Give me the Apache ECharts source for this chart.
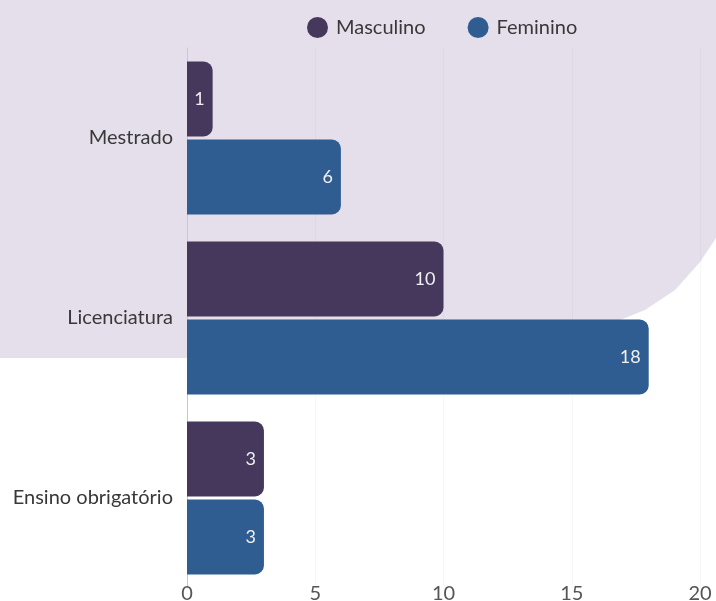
<!DOCTYPE html>
<html>
<head>
<meta charset="utf-8">
<script src="https://cdn.jsdelivr.net/npm/echarts@6/dist/echarts.min.js"></script>
<style>
  html, body { margin: 0; padding: 0; background: #ffffff; }
  #chart { width: 716px; height: 601px; }
</style>
</head>
<body>
<div id="chart"></div>
<script>
// Education level by gender
const categories = ['Mestrado', 'Licenciatura', 'Ensino obrigatório'];
const seriesNames = ['Masculino', 'Feminino'];
const masculino = [1, 10, 3];
const feminino = [6, 18, 3];
const xTicks = [0, 5, 10, 15, 20];

const colors = ['#46385c', '#2f5d91'];
const font = 'Lato, "Open Sans", sans-serif';

const chart = echarts.init(document.getElementById('chart'), null, { renderer: 'canvas' });

const valueLabel = {
  show: true,
  position: 'insideRight',
  distance: 8,
  color: '#f0f0f0',
  fontSize: 18,
  fontFamily: font
};

chart.setOption({
  backgroundColor: '#ffffff',
  graphic: [{
    type: 'polygon',
    z: -10,
    silent: true,
    shape: {
      points: [[0, 0], [716, 0], [716, 238], [700, 262], [675, 290], [645, 310],
               [600, 328], [540, 342], [460, 351], [350, 356], [200, 358], [0, 358]]
    },
    style: { fill: '#e5dfeb' }
  }],
  color: colors,
  legend: {
    data: seriesNames,
    top: 12,
    left: 302,
    icon: 'circle',
    itemWidth: 21,
    itemHeight: 21,
    itemGap: 42,
    textStyle: { fontSize: 20, color: '#383838', fontFamily: font, padding: [0, 0, 0, 3] }
  },
  grid: { left: 187, right: 16, top: 48, bottom: 13, containLabel: false, outerBoundsMode: 'none' },
  xAxis: {
    type: 'value',
    min: xTicks[0],
    max: xTicks[xTicks.length - 1],
    interval: 5,
    axisLine: { show: false },
    axisTick: { show: false },
    splitLine: { show: true, lineStyle: { color: 'rgba(0,0,0,0.03)', width: 1 } },
    axisLabel: { margin: -4, fontSize: 20, color: '#555', fontFamily: font, verticalAlign: 'top' }
  },
  yAxis: {
    type: 'category',
    data: categories,
    inverse: true,
    axisLine: { show: true, lineStyle: { color: '#c8c8c8', width: 1 } },
    axisTick: { show: false },
    axisLabel: { margin: 14, fontSize: 20, color: '#383838', fontFamily: font }
  },
  series: [
    {
      name: seriesNames[0],
      type: 'bar',
      data: masculino,
      barCategoryGap: '15%',
      barGap: '4%',
      itemStyle: { color: colors[0], borderRadius: [0, 9, 9, 0] },
      label: valueLabel
    },
    {
      name: seriesNames[1],
      type: 'bar',
      data: feminino,
      barCategoryGap: '15%',
      barGap: '4%',
      itemStyle: { color: colors[1], borderRadius: [0, 9, 9, 0] },
      label: valueLabel
    }
  ]
});
</script>
</body>
</html>
